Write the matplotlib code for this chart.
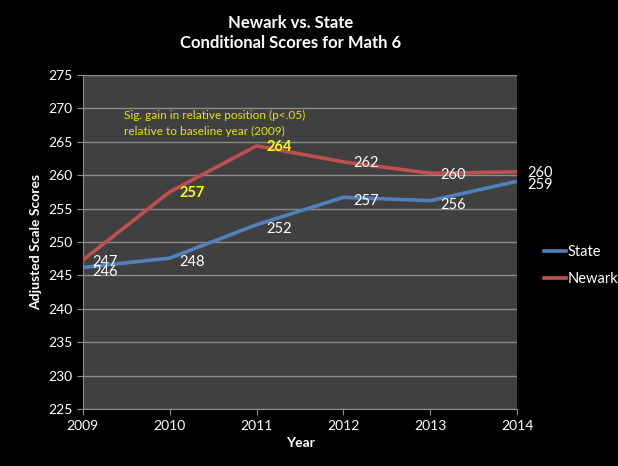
import matplotlib.pyplot as plt

# --- datos ---
years = [2009, 2010, 2011, 2012, 2013, 2014]
state = [246.2, 247.6, 252.6, 256.7, 256.2, 259.1]
newark = [247.3, 257.5, 264.4, 262.0, 260.3, 260.5]
state_labels = ["246", "248", "252", "257", "256", "259"]
newark_labels = ["247", "257", "264", "262", "260", "260"]
sig_points = [1, 2]  # indices con ganancia significativa (texto amarillo)

yticks = list(range(225, 276, 5))

plt.rcParams['font.family'] = ['Lato', 'DejaVu Sans']

fig = plt.figure(figsize=(6.18, 4.66), dpi=100, facecolor='black')
ax = fig.add_axes([0.134, 0.122, 0.703, 0.717])
ax.set_facecolor('#404040')

blue = '#4F81BD'
red = '#C0504D'

ax.plot(years, state, color=blue, lw=2.6, label='State', zorder=3)
ax.plot(years, newark, color=red, lw=2.6, label='Newark', zorder=3)

# etiquetas de datos
for i, (x, y) in enumerate(zip(years, state)):
    ax.annotate(state_labels[i], (x, y), xytext=(7, -3), textcoords='offset points',
                ha='left', va='center', color='white', fontsize=10.5, zorder=4)
for i, (x, y) in enumerate(zip(years, newark)):
    if i in sig_points:
        ax.annotate(newark_labels[i], (x, y), xytext=(7, -1), textcoords='offset points',
                    ha='left', va='center', color='#FFFF00', fontsize=10.5,
                    fontweight='bold', zorder=4)
    else:
        ax.annotate(newark_labels[i], (x, y), xytext=(7, -1), textcoords='offset points',
                    ha='left', va='center', color='white', fontsize=10.5, zorder=4)

ax.text(0.095, 0.895, "Sig. gain in relative position (p<.05)\nrelative to baseline year (2009)",
        transform=ax.transAxes, color='#E6E600', fontsize=8.5, va='top', ha='left',
        linespacing=1.5)

ax.set_xlim(2009, 2014)
ax.set_ylim(225, 275)
ax.set_yticks(yticks)
ax.set_xticks(years)
ax.grid(axis='y', color='#8C8C8C', lw=1)
ax.set_axisbelow(True)

for side in ['top', 'right']:
    ax.spines[side].set_visible(False)
for side in ['left', 'bottom']:
    ax.spines[side].set_color('#8C8C8C')
ax.tick_params(colors='#8C8C8C', labelcolor='white', labelsize=10, length=4)

ax.set_ylabel('Adjusted Scale Scores', color='white', fontsize=10, fontweight='bold')
ax.set_xlabel('Year', color='white', fontsize=10, fontweight='bold', labelpad=4)

fig.text(0.47, 0.93, "Newark vs. State\nConditional Scores for Math 6", color='white',
         fontsize=12, fontweight='bold', ha='center', va='center', linespacing=1.3)

leg = ax.legend(loc='center left', bbox_to_anchor=(1.062, 0.43), frameon=False,
                labelcolor='white', fontsize=10.5, handlelength=1.5, handletextpad=0.1,
                labelspacing=0.9, borderpad=0, borderaxespad=0)

plt.savefig('out.png', dpi=100, facecolor='black')
